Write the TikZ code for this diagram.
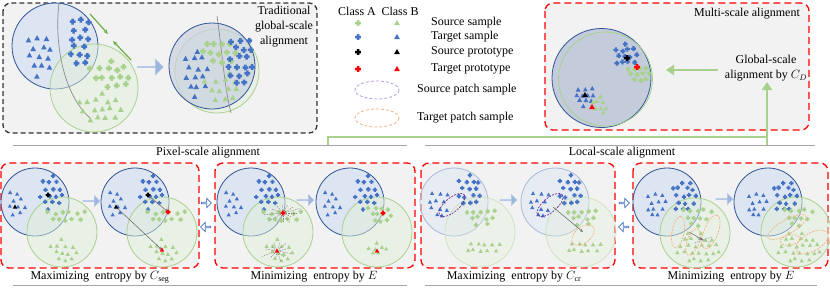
\documentclass[tikz,border=0pt]{standalone}
\usepackage{fontspec}
\setmainfont{Liberation Serif}
\usetikzlibrary{shapes.arrows,arrows.meta}
\definecolor{cB}{HTML}{4472C4}
\definecolor{cG}{HTML}{A9D18E}
\definecolor{bEdge}{HTML}{2F5597}
\definecolor{bFill}{HTML}{DAE3F3}
\definecolor{gFill}{HTML}{E2F0D9}
\definecolor{boxBg}{HTML}{F2F2F2}
\definecolor{arF}{HTML}{9DB5E0}
\definecolor{arD}{HTML}{B4C7E7}
\definecolor{gArrow}{HTML}{70AD47}
\definecolor{rDash}{HTML}{FF0000}
\definecolor{pLeg}{HTML}{B79BE0}
\definecolor{pDark}{HTML}{7030A0}
\definecolor{oDash}{HTML}{F4B183}
\definecolor{fB}{HTML}{A9B9D9}
\definecolor{fG}{HTML}{CFE3C2}
\newcommand\blob[7]{%
  \pgfmathtruncatemacro\bnx{2*#5/#7}%
  \pgfmathtruncatemacro\bny{2*#6/#7}%
  \foreach \bi in {0,...,\bnx}{\foreach \bj in {0,...,\bny}{%
    \pgfmathsetmacro\bpx{#3-#5+\bi*#7+mod(\bj,2)*#7/2+0.22*#7*rand}%
    \pgfmathsetmacro\bpy{#4-#6+\bj*#7+0.22*#7*rand}%
    \pgfmathsetmacro\bdd{((\bpx-(#3))/(#5))^2+((\bpy-(#4))/(#6))^2}%
    \ifdim\bdd pt<1pt\relax \pic[#2] at (\bpx,\bpy) {#1};\fi
  }}}
\tikzset{
  crs/.pic={\fill (-2.9,-1.25) -- (-1.25,-1.25) -- (-1.25,-2.9) -- (1.25,-2.9) -- (1.25,-1.25) -- (2.9,-1.25) -- (2.9,1.25) -- (1.25,1.25) -- (1.25,2.9) -- (-1.25,2.9) -- (-1.25,1.25) -- (-2.9,1.25) -- cycle;},
  tri/.pic={\fill (0,-3.1) -- (2.8,2) -- (-2.8,2) -- cycle;},
  sb/.style={cB,scale=.75}, sg/.style={cG,scale=.75},
  bcirc/.style={draw=bEdge, line width=.8pt, fill=bFill, fill opacity=.85},
  gcirc/.style={draw=cG, line width=.8pt, fill=gFill, fill opacity=.5},
  fbcirc/.style={draw=fB, line width=.8pt, fill=bFill, fill opacity=.45},
  fgcirc/.style={draw=fG, line width=.8pt, fill=gFill, fill opacity=.35},
  blackbox/.style={draw=black!80, line width=1.3pt, dash pattern=on 5pt off 3pt, rounded corners=8pt, fill=boxBg},
  redbox/.style={draw=rDash, line width=1.3pt, dash pattern=on 7pt off 4pt, rounded corners=8pt, fill=boxBg},
  barrow/.style={single arrow, fill=arF, draw=arD, line width=.5pt, inner sep=0pt, single arrow head extend=2.5pt},
  oarrow/.style={single arrow, fill=white, draw=cB, line width=.7pt, inner sep=0pt, minimum height=10pt, minimum width=9pt, single arrow head extend=2pt},
  garrow/.style={draw=gArrow, line width=1.2pt, -{Stealth[length=5pt,width=4pt]}},
  gline/.style={draw=cG, line width=2.6pt},
  grayarr/.style={draw=black!55, line width=.6pt, -{Stealth[length=3.5pt,width=3pt]}},
  ray/.style={draw=black!50, line width=.4pt, dash pattern=on 1.5pt off 1pt},
  sep/.style={draw=black!35, line width=.8pt},
  odsh/.style={draw=oDash, line width=.7pt, dash pattern=on 2pt off 1.2pt},
  pdsh/.style={draw=pDark, line width=.7pt, dash pattern=on 2pt off 1.2pt},
  lbl/.style={inner sep=1pt},
}
\newcommand\scatBlue{%
  \blob{tri}{sb}{-19}{1}{10}{17}{7}%
  \blob{crs}{sb}{15}{-8}{12}{19}{7}}
\newcommand\scatGreen{%
  \blob{crs}{sg}{31}{14}{21}{10}{7}%
  \blob{tri}{sg}{30}{48}{17}{11}{7}}
\begin{document}
\begin{tikzpicture}[x=1pt,y=-1pt,font=\fontsize{12}{14}\selectfont]
\useasboundingbox (0,0) rectangle (830,287);
% ---------------- top-left box
\draw[blackbox] (3,3) rectangle (317,133);
\node[lbl, align=center, font=\fontsize{12}{15}\selectfont] (trad) at (284,27) {Traditional\\global-scale\\alignment};
\draw[bcirc] (55,46) circle (43);
\draw[gcirc] (94,88) circle (44);
\draw[black!45, line width=.7pt] (59,3) .. controls (54,45) and (64,95) .. (90,118);
\pgfmathsetseed{3}
\blob{tri}{cB}{38}{54}{14}{24}{9}
\blob{crs}{cB}{80}{43}{13}{30}{8.5}
\blob{crs}{cG}{110}{74}{24}{14}{8.5}
\blob{tri}{cG}{100}{108}{25}{16}{9}
\coordinate (ga1) at (90,14); \coordinate (ga2) at (108,34);
\coordinate (ga3) at (131,60); \coordinate (ga4) at (113,41);
\draw[garrow] (ga1) -- (ga2);
\draw[garrow] (ga3) -- (ga4);
\node[barrow, minimum height=26pt, minimum width=16pt] (ba0) at (150,67) {};
\draw[draw=cG, line width=.8pt, fill=gFill, fill opacity=.5] (217,71) circle (42);
\draw[draw=bEdge, line width=.8pt, fill=black!8!bFill, fill opacity=.7] (212,66) circle (43);
\draw[black!45, line width=.7pt] (217,16) .. controls (222,50) and (224,85) .. (231,113);
\blob{tri}{cB}{195}{74}{15}{24}{9}
\blob{tri}{cG}{222}{88}{20}{16}{9}
\blob{crs}{cG}{222}{50}{20}{14}{8.5}
\blob{crs}{cB}{240}{60}{13}{28}{8.5}
% ---------------- legend
\node[lbl] (ca) at (357,11) {Class A};
\node[lbl] (cb) at (400,11) {Class B};
\pic[cG] at (358,23) {crs}; \pic[cG] at (397,23) {tri};
\pic[cB] at (358,37) {crs}; \pic[cB] at (397,37) {tri};
\pic[black] at (358,52) {crs}; \pic[black] at (397,52) {tri};
\pic[red] at (358,69) {crs}; \pic[red] at (397,69) {tri};
\node[lbl, anchor=west] (l1) at (430,23) {Source sample};
\node[lbl, anchor=west] (l2) at (430,37) {Target sample};
\node[lbl, anchor=west] (l3) at (430,52) {Source prototype};
\node[lbl, anchor=west] (l4) at (430,69) {Target prototype};
\draw[draw=pLeg, line width=.8pt, dash pattern=on 3pt off 2pt] (377,90) ellipse (22 and 9);
\draw[draw=oDash, line width=.8pt, dash pattern=on 3pt off 2pt] (377,118) ellipse (22 and 9);
\node[lbl, anchor=west] (l5) at (416,90) {Source patch sample};
\node[lbl, anchor=west] (l6) at (416,118) {Target patch sample};
% ---------------- top-right box
\draw[redbox] (545,3) rectangle (809,130);
\node[lbl] (multi) at (747,14) {Multi-scale alignment};
\draw[draw=bEdge, line width=.8pt, fill=black!10!bFill] (601.5,78) circle (49.5);
\draw[draw=cG, line width=.8pt] (605.5,79) circle (47);
\pgfmathsetseed{21}
\blob{crs}{cB,scale=.85}{625}{56}{12}{12}{6}
\blob{crs}{cG,scale=.85}{638}{72}{12}{10}{6}
\pic[black] at (627,58) {crs}; \pic[red] at (637,67) {crs};
\blob{tri}{cB,scale=.85}{586}{95}{10}{12}{6}
\blob{tri}{cG,scale=.85}{599}{105}{10}{9}{6}
\pic[black] at (585,95) {tri}; \pic[red] at (592,107) {tri};
\node[lbl, align=center, font=\fontsize{12}{15.5}\selectfont] (glob) at (766,68) {Global-scale\\alignment by $C_D$};
\coordinate (gD) at (718,70); \coordinate (gE) at (666,70);
\draw[gline, -{Triangle[length=8pt,width=10pt]}] (gD) -- (gE);
% ---------------- green connector
\coordinate (gA) at (328,146); \coordinate (gM) at (767,137);
\coordinate (gB) at (767,146); \coordinate (gC) at (767,82);
\draw[gline] (gA) |- (gM);
\draw[gline, -{Triangle[length=8pt,width=10pt]}] (gB) -- (gC);
% ---------------- section titles and separators
\draw[sep] (13,145) -- (407,145);
\draw[sep] (425,145) -- (815,145);
\draw[sep] (13,285) -- (407,285);
\draw[sep] (425,285) -- (817,285);
\node[lbl, fill=white] (pix) at (208,153) {Pixel-scale alignment};
\node[lbl, fill=white] (loc) at (622,153) {Local-scale alignment};
% ---------------- bottom boxes
\draw[redbox] (1,163) rectangle (199,268);
\draw[redbox] (215,163) rectangle (415,268);
\draw[redbox] (421,163) rectangle (615,268);
\draw[redbox] (633,163) rectangle (828,268);
\node[lbl] (cap1) at (100,277) {Maximizing~ entropy by $C_{\mathrm{seg}}$};
\node[lbl] (cap2) at (314,277) {Minimizing~ entropy by $E$};
\node[lbl] (cap3) at (514,277) {Maximizing~ entropy by $C_{\mathrm{cr}}$};
\node[lbl] (cap4) at (731,277) {Minimizing~ entropy by $E$};
\node[oarrow] (oa1) at (206,203) {};
\node[oarrow, shape border rotate=180] (oa2) at (206,227) {};
\node[oarrow] (oa3) at (624,203) {};
\node[oarrow, shape border rotate=180] (oa4) at (624,227) {};
\node[barrow, minimum height=17pt, minimum width=11pt] (ba1) at (91,201) {};
\node[barrow, minimum height=17pt, minimum width=11pt] (ba2) at (305,200) {};
\node[barrow, minimum height=17pt, minimum width=11pt] (ba3) at (508,200) {};
\node[barrow, minimum height=17pt, minimum width=11pt] (ba4) at (724,199) {};
% box 1 left
\begin{scope}[shift={(35,202)}]
 \draw[bcirc] (0,0) circle (34); \draw[gcirc] (27,30) circle (35);
 \pgfmathsetseed{11}\scatBlue\scatGreen
 \pic[black,scale=.8] at (-20,5) {tri}; \pic[black,scale=.8] at (13,-7) {crs};
\end{scope}
% box 1 right
\begin{scope}[shift={(135,202)}]
 \draw[bcirc] (0,0) circle (34); \draw[gcirc] (27,30) circle (35);
 \pgfmathsetseed{11}\scatBlue\scatGreen
 \coordinate (p1) at (13,-7); \coordinate (p2) at (33,10);
 \coordinate (p3) at (-19,5); \coordinate (p4) at (27,48);
 \draw[grayarr] (p1) -- (p2); \draw[grayarr] (p3) -- (p4);
 \pic[black,scale=.8] at (p3) {tri}; \pic[black,scale=.8] at (p1) {crs};
 \pic[red,scale=.8] at (p2) {crs}; \pic[red,scale=.8] at (p4) {tri};
\end{scope}
% box 2 left
\begin{scope}[shift={(251,202)}]
 \draw[bcirc] (0,0) circle (34); \draw[gcirc] (27,30) circle (35);
 \pgfmathsetseed{11}\scatBlue\scatGreen
 \coordinate (r1) at (32,11); \coordinate (r2) at (26,49);
 \foreach \a/\l in {0/14,25/10,55/12,90/9,120/13,150/16,175/20,200/12,230/9,265/8,300/10,330/12,345/18}
   \draw[ray] (r1) -- ++(\a:\l);
 \foreach \a/\l in {10/14,40/9,70/11,100/8,135/10,160/16,190/12,220/8,250/9,290/10,320/12,350/9}
   \draw[ray] (r2) -- ++(\a:\l);
 \pic[red,scale=.8] at (r1) {crs}; \pic[red,scale=.8] at (r2) {tri};
\end{scope}
% box 2 right
\begin{scope}[shift={(350,202)}]
 \draw[bcirc] (0,0) circle (34); \draw[gcirc] (27,30) circle (35);
 \pgfmathsetseed{11}\scatBlue
 \blob{crs}{sg}{30}{11}{14}{10}{6}
 \blob{tri}{sg}{27}{47}{10}{6}{5.5}
 \pic[red,scale=.8] at (33,11) {crs}; \pic[red,scale=.8] at (27,49) {tri};
\end{scope}
% box 3 left
\begin{scope}[shift={(454,202)}]
 \draw[fbcirc] (0,0) circle (34); \draw[fgcirc] (26,30) circle (35);
 \pgfmathsetseed{17}
 \blob{tri}{sb}{-14}{3}{11}{17}{7}
 \blob{crs}{sb}{14}{-10}{13}{17}{7}
 \blob{crs}{sg}{27}{13}{17}{11}{7}
 \blob{tri}{sg}{30}{45}{17}{10}{7}
 \draw[pdsh, shift={(-2,3)}, rotate=40] (0,0) ellipse (16 and 7);
\end{scope}
% box 3 right
\begin{scope}[shift={(555,202)}]
 \draw[fbcirc] (0,0) circle (34); \draw[fgcirc] (26,30) circle (35);
 \pgfmathsetseed{17}
 \blob{tri}{sb}{-14}{3}{11}{17}{7}
 \blob{crs}{sb}{14}{-10}{13}{17}{7}
 \blob{crs}{sg}{27}{13}{17}{11}{7}
 \blob{tri}{sg}{30}{45}{17}{10}{7}
 \draw[pdsh, shift={(-5,3)}, rotate=40] (0,0) ellipse (16 and 7);
 \draw[odsh, shift={(28,33)}, rotate=40] (0,0) ellipse (13 and 8);
 \coordinate (q1) at (-2,5); \coordinate (q2) at (28,30);
 \draw[grayarr] (q1) -- (q2);
\end{scope}
% box 4 left
\begin{scope}[shift={(667,202)}]
 \draw[bcirc] (0,0) circle (34); \draw[gcirc] (28,31) circle (35);
 \pgfmathsetseed{29}
 \blob{tri}{sb}{-12}{1}{11}{15}{7}
 \blob{crs}{sb}{17}{-7}{12}{20}{7}
 \blob{crs}{sg}{31}{13}{18}{11}{7}
 \blob{tri}{sg}{30}{45}{23}{15}{7}
 \draw[odsh, shift={(11,30)}, rotate=80] (0,0) ellipse (16 and 6);
 \draw[odsh, shift={(26,40)}, rotate=70] (0,0) ellipse (14 and 6);
 \draw[odsh, shift={(44,30)}, rotate=70] (0,0) ellipse (18 and 7);
 \coordinate (s1) at (22,30); \coordinate (s2) at (36,38);
 \draw[grayarr] (s1) -- (s2);
 \foreach \a/\l in {20/8,160/10,200/7,340/9}
   \draw[ray] (s2) -- ++(\a:\l);
\end{scope}
% box 4 right
\begin{scope}[shift={(768,202)}]
 \draw[bcirc] (0,0) circle (34); \draw[gcirc] (28,30) circle (35);
 \pgfmathsetseed{29}
 \blob{tri}{sb}{-12}{1}{11}{15}{7}
 \blob{crs}{sb}{17}{-7}{12}{20}{7}
 \blob{crs}{sg}{31}{13}{18}{11}{7}
 \blob{tri}{sg}{30}{45}{23}{15}{7}
 \draw[odsh, shift={(19,25)}, rotate=30] (0,0) ellipse (22 and 7);
 \draw[odsh, shift={(44,40)}, rotate=30] (0,0) ellipse (18 and 9);
 \draw[odsh, shift={(22,38)}, rotate=10] (0,0) ellipse (10 and 5);
\end{scope}
\end{tikzpicture}
\end{document}
